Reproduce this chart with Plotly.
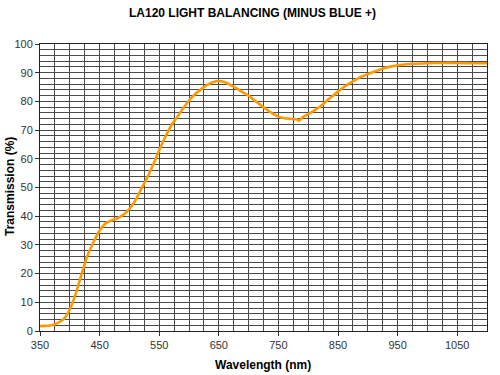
import plotly.graph_objects as go

wavelength = [350,360,370,380,390,400,410,420,430,440,450,460,470,480,490,500,510,520,530,540,550,
              560,570,580,590,600,610,620,630,640,650,660,670,680,690,700,710,720,730,740,750,760,770,
              780,785,790,800,810,820,830,840,850,860,870,880,890,900,910,920,930,940,950,975,1000,
              1025,1050,1075,1100]
transmission = [1.7,1.8,2.0,2.8,4.2,7.5,13,20,26.5,31,35,37.5,38.5,39.3,40.5,42.5,45.5,49.5,53.5,58,63,
                67.5,71.5,74.5,77.5,80.3,82.5,84.2,85.7,86.7,87.1,86.7,85.7,84.5,83.2,82,80.3,78.8,77.2,
                75.8,74.7,74.1,73.9,73.8,73.3,74.4,75.6,76.8,78.2,80,81.7,83.4,85,86.4,87.6,88.7,89.5,
                90.3,91,91.7,92.2,92.6,93.1,93.3,93.4,93.4,93.3,93.3]
x_ticks = [350,450,550,650,750,850,950,1050]

FONT = "Liberation Sans, Arial, sans-serif"
GRID = "#4a4a4a"
L, R, T, B = 40, 13, 44, 44
PW, PH = 500 - L - R, 375 - T - B

fig = go.Figure()
fig.add_trace(go.Scatter(x=wavelength, y=transmission, mode="lines",
                         line=dict(color="#FF9900", width=2.6, shape="spline", smoothing=0.6),
                         hoverinfo="skip", showlegend=False))

title_font = dict(family=FONT, size=12, color="black")
fig.update_layout(
    width=500, height=375,
    margin=dict(l=L, r=R, t=T, b=B, autoexpand=False),
    paper_bgcolor="white", plot_bgcolor="white",
    font=dict(family=FONT, size=11, color="#333333"),
    annotations=[
        dict(text="<b>LA120 LIGHT BALANCING (MINUS BLUE +)</b>", xref="paper", yref="paper",
             x=(252 - L) / PW, y=1 + (T - 13) / PH, xanchor="center", yanchor="middle",
             showarrow=False, font=title_font),
        dict(text="<b>Wavelength (nm)</b>", xref="paper", yref="paper",
             x=(263 - L) / PW, y=-(365 - (375 - B)) / PH, xanchor="center", yanchor="middle",
             showarrow=False, font=title_font),
        dict(text="<b>Transmission (%)</b>", xref="paper", yref="paper",
             x=-(L - 10) / PW, y=(375 - B - 187) / PH, xanchor="center", yanchor="middle",
             textangle=-90, showarrow=False, font=title_font),
    ],
)
fig.update_xaxes(range=[350, 1100], tickvals=x_ticks, ticks="outside", ticklen=4, tickcolor="#333",
                 showgrid=True, gridcolor=GRID, gridwidth=1, automargin=False,
                 minor=dict(dtick=25, tick0=350, showgrid=True, gridcolor=GRID, gridwidth=1),
                 showline=True, linecolor="#222", linewidth=1, mirror=True,
                 zeroline=False, tickfont=dict(size=11, color="#333"))
fig.update_yaxes(range=[0, 100], dtick=10, tick0=0, ticks="outside", ticklen=4, tickcolor="#333",
                 showgrid=True, gridcolor=GRID, gridwidth=1, automargin=False,
                 minor=dict(dtick=2, tick0=0, showgrid=True, gridcolor=GRID, gridwidth=1),
                 showline=True, linecolor="#222", linewidth=1, mirror=True,
                 zeroline=False, tickfont=dict(size=11, color="#333"))

fig.write_html("out.html", config={"displayModeBar": False},
               post_script="document.body.style.margin='0px';")
